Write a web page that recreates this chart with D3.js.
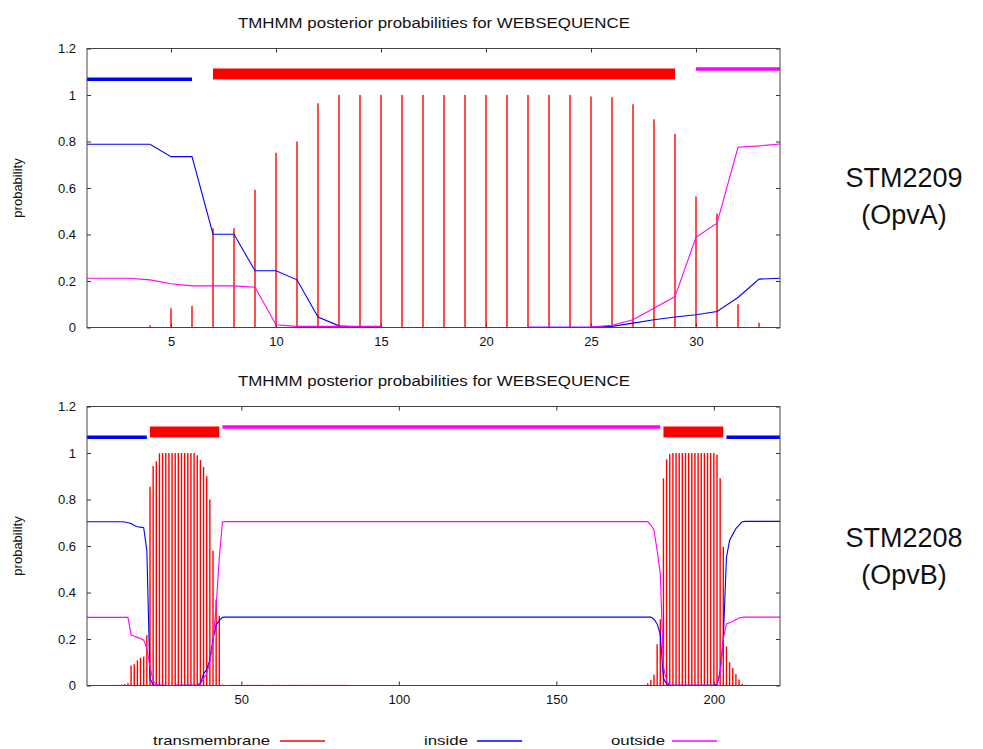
<!DOCTYPE html>
<html><head><meta charset="utf-8">
<script src="https://cdn.jsdelivr.net/npm/d3@7"></script>
<style>
html,body{margin:0;padding:0;background:#fff;}
text{font-family:"Liberation Sans",Arial,Helvetica,sans-serif;fill:#111;}
</style></head><body>
<svg id="chart" width="983" height="749"></svg>
<script>
// ---------- DATA ----------
const titleText = "TMHMM posterior probabilities for WEBSEQUENCE";
const yTicks = [0, 0.2, 0.4, 0.6, 0.8, 1, 1.2];
const xTicksA = [5, 10, 15, 20, 25, 30];
const xTicksB = [50, 100, 150, 200];
const legendLabels = ["transmembrane", "inside", "outside"];
const proteinA = ["STM2209", "(OpvA)"];
const proteinB = ["STM2208", "(OpvB)"];

// Chart A (34 residues): transmembrane, inside, outside posterior probabilities
const tmA = [0, 0, 0, 0.01, 0.083, 0.093, 0.427, 0.427, 0.592, 0.752,
  0.80, 0.965, 1, 1, 1, 1, 1, 1, 1, 1,
  1, 1, 1, 1, 0.994, 0.99, 0.96, 0.896, 0.832, 0.563,
  0.49, 0.10, 0.02, 0];
const inA = [0.788, 0.788, 0.788, 0.788, 0.735, 0.735, 0.401, 0.401, 0.244, 0.244,
  0.205, 0.045, 0.007, 0.002, 0.002, null, null, null, null, null,
  null, 0.001, 0.001, 0.001, 0.001, 0.005, 0.019, 0.033, 0.045, 0.055,
  0.069, 0.129, 0.208, 0.212];
const outA = [0.212, 0.212, 0.212, 0.205, 0.188, 0.179, 0.179, 0.179, 0.173, 0.012,
  0.005, 0.005, 0.005, 0.005, 0.005, null, null, null, null, null,
  null, 0.001, 0.001, 0.001, 0.002, 0.01, 0.033, 0.083, 0.133, 0.388,
  0.449, 0.775, 0.781, 0.789];
const segA = [
  {type: "inside", start: 1, end: 6},
  {type: "TMhelix", start: 7, end: 29},
  {type: "outside", start: 30, end: 34}
];

// Chart B (221 residues)
const tmB = [
  0, 0, 0, 0, 0, 0, 0, 0, 0, 0.003, 0.003, 0.004, 0.006, 0.01, 0.086, 0.091, 0.108, 0.119, 0.125, 0.216,
  0.855, 0.944, 0.963, 0.999, 1, 1, 1, 1, 1, 1, 1, 1, 1, 1, 1, 0.99, 0.97, 0.94, 0.90, 0.80,
  0.58, 0.37, 0.30, 0.004, 0.002, 0, 0.003, 0.003, 0.003, 0.003, 0.003, 0.003, 0.003, 0.003, 0.003, 0.003, 0.003, 0.003, 0.003, 0.003,
  0.003, 0.003, 0.003, 0.003, 0.003, 0.003, 0.003, 0.003, 0.003, 0.003, 0.003, 0.003, 0.003, 0.003, 0.003, 0.003, 0.003, 0.003, 0.003, 0.003,
  0.003, 0.003, 0.003, 0, 0, 0, 0, 0, 0, 0, 0, 0, 0, 0, 0, 0, 0, 0, 0, 0,
  0, 0, 0, 0, 0, 0, 0, 0, 0, 0, 0, 0, 0, 0, 0, 0, 0, 0, 0, 0,
  0, 0, 0, 0, 0, 0, 0, 0, 0, 0, 0, 0, 0, 0, 0, 0, 0, 0, 0, 0,
  0, 0, 0, 0, 0, 0, 0, 0, 0, 0, 0, 0, 0, 0, 0, 0, 0, 0, 0, 0,
  0, 0, 0, 0, 0, 0, 0, 0, 0, 0, 0, 0, 0, 0, 0, 0, 0, 0.003, 0.01, 0.024,
  0.046, 0.177, 0.285, 0.891, 0.973, 0.996, 1, 1, 1, 1, 1, 1, 1, 1, 1, 1, 1, 1, 1, 1,
  0.993, 0.891, 0.597, 0.168, 0.10, 0.075, 0.05, 0.026, 0.008, 0.003, 0, 0, 0, 0, 0, 0, 0, 0, 0, 0, 0
];
const inB = [
  0.704, 0.704, 0.704, 0.704, 0.704, 0.704, 0.704, 0.704, 0.704, 0.704, 0.704, 0.704, 0.703, 0.700, 0.697, 0.688, 0.683, 0.681, 0.679, 0.58,
  0.03, 0.003, 0.001, 0.001, 0.001, 0.001, null, null, 0.001, 0.001, 0.001, 0.001, 0.001, 0.001, 0.001, 0.001, 0.01, 0.05, 0.07, 0.11,
  0.20, 0.26, 0.28, 0.293, 0.294, 0.294, 0.294, 0.294, 0.294, 0.294, 0.294, 0.294, 0.294, 0.294, 0.294, 0.294, 0.294, 0.294, 0.294, 0.294,
  0.294, 0.294, 0.294, 0.294, 0.294, 0.294, 0.294, 0.294, 0.294, 0.294, 0.294, 0.294, 0.294, 0.294, 0.294, 0.294, 0.294, 0.294, 0.294, 0.294,
  0.294, 0.294, 0.294, 0.294, 0.294, 0.294, 0.294, 0.294, 0.294, 0.294, 0.294, 0.294, 0.294, 0.294, 0.294, 0.294, 0.294, 0.294, 0.294, 0.294,
  0.294, 0.294, 0.294, 0.294, 0.294, 0.294, 0.294, 0.294, 0.294, 0.294, 0.294, 0.294, 0.294, 0.294, 0.294, 0.294, 0.294, 0.294, 0.294, 0.294,
  0.294, 0.294, 0.294, 0.294, 0.294, 0.294, 0.294, 0.294, 0.294, 0.294, 0.294, 0.294, 0.294, 0.294, 0.294, 0.294, 0.294, 0.294, 0.294, 0.294,
  0.294, 0.294, 0.294, 0.294, 0.294, 0.294, 0.294, 0.294, 0.294, 0.294, 0.294, 0.294, 0.294, 0.294, 0.294, 0.294, 0.294, 0.294, 0.294, 0.294,
  0.294, 0.294, 0.294, 0.294, 0.294, 0.294, 0.294, 0.294, 0.294, 0.294, 0.294, 0.294, 0.294, 0.294, 0.294, 0.294, 0.294, 0.294, 0.294, 0.294,
  0.285, 0.265, 0.22, 0.03, 0.007, 0.001, 0.001, 0.001, 0.001, 0.001, 0.001, 0.001, 0.001, 0.001, 0.001, 0.001, 0.001, 0.001, 0.001, 0.001,
  0.005, 0.06, 0.20, 0.55, 0.625, 0.65, 0.675, 0.69, 0.704, 0.706, 0.706, 0.706, 0.706, 0.706, 0.706, 0.706, 0.706, 0.706, 0.706, 0.706, 0.706
];
const outB = [
  0.293, 0.293, 0.293, 0.293, 0.293, 0.293, 0.293, 0.293, 0.293, 0.293, 0.293, 0.293, 0.293, 0.293, 0.218, 0.212, 0.207, 0.202, 0.195, 0.16,
  0.08, 0.02, 0.005, 0.001, 0.001, 0.001, null, null, 0.001, 0.001, 0.001, 0.001, 0.001, 0.001, 0.001, 0.001, 0.005, 0.03, 0.05, 0.10,
  0.19, 0.34, 0.55, 0.703, 0.705, 0.705, 0.705, 0.705, 0.705, 0.705, 0.705, 0.705, 0.705, 0.705, 0.705, 0.705, 0.705, 0.705, 0.705, 0.705,
  0.705, 0.705, 0.705, 0.705, 0.705, 0.705, 0.705, 0.705, 0.705, 0.705, 0.705, 0.705, 0.705, 0.705, 0.705, 0.705, 0.705, 0.705, 0.705, 0.705,
  0.705, 0.705, 0.705, 0.705, 0.705, 0.705, 0.705, 0.705, 0.705, 0.705, 0.705, 0.705, 0.705, 0.705, 0.705, 0.705, 0.705, 0.705, 0.705, 0.705,
  0.705, 0.705, 0.705, 0.705, 0.705, 0.705, 0.705, 0.705, 0.705, 0.705, 0.705, 0.705, 0.705, 0.705, 0.705, 0.705, 0.705, 0.705, 0.705, 0.705,
  0.705, 0.705, 0.705, 0.705, 0.705, 0.705, 0.705, 0.705, 0.705, 0.705, 0.705, 0.705, 0.705, 0.705, 0.705, 0.705, 0.705, 0.705, 0.705, 0.705,
  0.705, 0.705, 0.705, 0.705, 0.705, 0.705, 0.705, 0.705, 0.705, 0.705, 0.705, 0.705, 0.705, 0.705, 0.705, 0.705, 0.705, 0.705, 0.705, 0.705,
  0.705, 0.705, 0.705, 0.705, 0.705, 0.705, 0.705, 0.705, 0.705, 0.705, 0.705, 0.705, 0.705, 0.705, 0.705, 0.705, 0.705, 0.705, 0.705, 0.69,
  0.668, 0.58, 0.48, 0.08, 0.02, 0.001, 0.001, 0.001, 0.001, 0.001, 0.001, 0.001, 0.001, 0.001, 0.001, 0.001, 0.001, 0.001, 0.001, 0.001,
  0.002, 0.05, 0.20, 0.265, 0.27, 0.275, 0.283, 0.29, 0.293, 0.294, 0.294, 0.294, 0.294, 0.294, 0.294, 0.294, 0.294, 0.294, 0.294, 0.294, 0.294
];
const segB = [
  {type: "inside", start: 1, end: 20},
  {type: "TMhelix", start: 21, end: 43},
  {type: "outside", start: 44, end: 183},
  {type: "TMhelix", start: 184, end: 203},
  {type: "inside", start: 204, end: 221}
];

// ---------- STYLE ----------
const COLORS = {tm: "#ff0000", inside: "#0000ff", outside: "#ff00ff"};
const svg = d3.select("#chart");

function panel(cfg) {
  const x = d3.scaleLinear().domain(cfg.xDomain).range([87, 780]);
  const y = d3.scaleLinear().domain([0, 1.2]).range([cfg.bottom, cfg.top]);
  const g = svg.append("g");

  // title
  g.append("text").attr("x", 434).attr("y", cfg.top - 21)
    .attr("text-anchor", "middle").attr("font-size", 14)
    .attr("textLength", 392).attr("lengthAdjust", "spacingAndGlyphs")
    .text(titleText);

  // y label
  g.append("text")
    .attr("transform", `translate(22,${(cfg.top + cfg.bottom) / 2}) rotate(-90)`)
    .attr("text-anchor", "middle").attr("font-size", 13)
    .text("probability");

  const fmt = d => String(+d.toFixed(1));
  const axB = g.append("g").attr("transform", `translate(0,${cfg.bottom})`)
    .call(d3.axisBottom(x).tickValues(cfg.xTicks).tickSize(-4).tickPadding(9).tickFormat(d3.format("d")));
  const axT = g.append("g").attr("transform", `translate(0,${cfg.top})`)
    .call(d3.axisTop(x).tickValues(cfg.xTicks).tickSize(-4).tickFormat(""));
  const axL = g.append("g").attr("transform", `translate(87,0)`)
    .call(d3.axisLeft(y).tickValues(yTicks).tickSize(-4).tickPadding(11).tickFormat(fmt));
  const axR = g.append("g").attr("transform", `translate(780,0)`)
    .call(d3.axisRight(y).tickValues(yTicks).tickSize(-4).tickFormat(""));
  [axB, axT, axL, axR].forEach(a => {
    a.select(".domain").remove();
    a.selectAll("line").attr("stroke", "#333");
    a.selectAll("text").attr("font-size", 13).attr("fill", "#111")
      .attr("font-family", '"Liberation Sans",Arial,sans-serif');
  });

  // impulses
  const imp = cfg.tm.map((v, i) => ({i: i + 1, v})).filter(d => d.v > 0);
  g.append("g").selectAll("line").data(imp).join("line")
    .attr("x1", d => x(d.i)).attr("x2", d => x(d.i))
    .attr("y1", y(0)).attr("y2", d => y(d.v))
    .attr("stroke", COLORS.tm).attr("stroke-width", 1.4);

  const line = d3.line().defined(d => d.v != null).x(d => x(d.i)).y(d => y(d.v));
  g.append("path").datum(cfg.inside.map((v, i) => ({i: i + 1, v})))
    .attr("d", line).attr("fill", "none").attr("stroke", COLORS.inside).attr("stroke-width", 1.1);
  g.append("path").datum(cfg.outside.map((v, i) => ({i: i + 1, v})))
    .attr("d", line).attr("fill", "none").attr("stroke", COLORS.outside).attr("stroke-width", 1.1);

  // topology segments
  cfg.seg.forEach(s => {
    if (s.type === "TMhelix") {
      g.append("rect").attr("x", x(s.start)).attr("width", x(s.end) - x(s.start))
        .attr("y", y(1.114)).attr("height", y(1.067) - y(1.114))
        .attr("fill", COLORS.tm);
    } else {
      const yy = s.type === "inside" ? y(1.068) : y(1.112);
      g.append("line").attr("x1", x(s.start)).attr("x2", x(s.end))
        .attr("y1", yy).attr("y2", yy)
        .attr("stroke", s.type === "inside" ? COLORS.inside : COLORS.outside)
        .attr("stroke-width", 3.5);
    }
  });

  // frame
  g.append("rect").attr("x", 87).attr("y", cfg.top).attr("width", 693).attr("height", cfg.bottom - cfg.top)
    .attr("fill", "none").attr("stroke", "#444").attr("stroke-width", 1);

  // protein label
  cfg.label.forEach((t, k) => {
    g.append("text").attr("x", 904).attr("y", cfg.labelY + k * 37)
      .attr("text-anchor", "middle").attr("font-size", 27).attr("fill", "#000").text(t);
  });
}

panel({xDomain: [1, 34], top: 48.5, bottom: 327.5, xTicks: xTicksA, tm: tmA, inside: inA, outside: outA, seg: segA, label: proteinA, labelY: 187});
panel({xDomain: [1, 221], top: 406.5, bottom: 685.5, xTicks: xTicksB, tm: tmB, inside: inB, outside: outB, seg: segB, label: proteinB, labelY: 547});

// legend
const legend = [
  {label: legendLabels[0], color: COLORS.tm, tx: 153, w: 117, lx: 280},
  {label: legendLabels[1], color: COLORS.inside, tx: 424, w: 44, lx: 477},
  {label: legendLabels[2], color: COLORS.outside, tx: 611, w: 54, lx: 672}
];
const lg = svg.append("g");
legend.forEach(d => {
  lg.append("text").attr("x", d.tx).attr("y", 745)
    .attr("font-size", 13).attr("textLength", d.w).attr("lengthAdjust", "spacingAndGlyphs")
    .text(d.label);
  lg.append("line").attr("x1", d.lx).attr("x2", d.lx + 45).attr("y1", 741).attr("y2", 741)
    .attr("stroke", d.color).attr("stroke-width", 1.5);
});
</script></body></html>
